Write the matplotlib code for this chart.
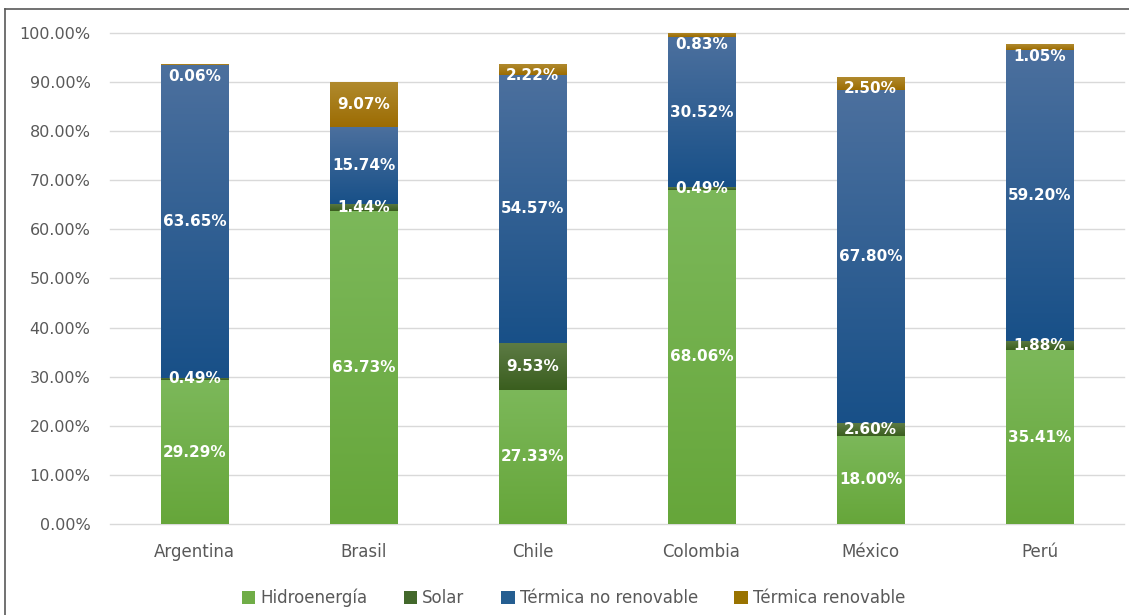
import numpy as np
import matplotlib.pyplot as plt
from matplotlib.colors import LinearSegmentedColormap
from matplotlib.patches import Patch
from matplotlib.lines import Line2D
from matplotlib.ticker import FuncFormatter

countries = ["Argentina", "Brasil", "Chile", "Colombia", "México", "Perú"]
sources = ["Hidroenergía", "Solar", "Térmica no renovable", "Térmica renovable"]

hidro = [29.29, 63.73, 27.33, 68.06, 18.00, 35.41]
solar = [0.49, 1.44, 9.53, 0.49, 2.60, 1.88]
termica_no_renov = [63.65, 15.74, 54.57, 30.52, 67.80, 59.20]
termica_renov = [0.06, 9.07, 2.22, 0.83, 2.50, 1.05]

series = [hidro, solar, termica_no_renov, termica_renov]

# (top, bottom) of each segment's vertical gradient, plus the flat legend colour
gradients = [("#7cb85a", "#66a63a"), ("#5d7b45", "#3a5e1e"),
             ("#4c709e", "#185088"), ("#b08a2e", "#9c6c02")]
legend_colors = ["#70ad47", "#43682b", "#255e91", "#997300"]

fig = plt.figure(figsize=(11.29, 6.15), dpi=100)
ax = fig.add_axes([0.0974, 0.148, 0.8982, 0.7985])

x = np.arange(len(countries))
width = 0.4
bottom = np.zeros(len(countries))
ramp = np.linspace(0, 1, 256).reshape(-1, 1)

for vals, (top_c, bot_c) in zip(series, gradients):
    vals = np.array(vals)
    bars = ax.bar(x, vals, width, bottom=bottom, color="none", edgecolor="none", zorder=2)
    cmap = LinearSegmentedColormap.from_list("seg", [bot_c, top_c])
    for b in bars:
        x0, y0 = b.get_x(), b.get_y()
        ax.imshow(ramp, cmap=cmap, origin="lower", aspect="auto", zorder=2,
                  extent=(x0, x0 + b.get_width(), y0, y0 + b.get_height()))
    bottom = bottom + vals

# data labels, kept inside the top of each bar
totals = bottom
bottom = np.zeros(len(countries))
for vals in series:
    vals = np.array(vals)
    for i, v in enumerate(vals):
        y = min(bottom[i] + v / 2, totals[i] - 2.3)
        ax.text(x[i], y, f"{v:.2f}%", ha="center", va="center", color="white",
                fontsize=11, fontweight="bold", zorder=4)
    bottom = bottom + vals

ax.set_xlim(-0.5, len(countries) - 0.5)
ax.set_ylim(0, 100)
ax.set_yticks(np.arange(0, 101, 10))
ax.yaxis.set_major_formatter(FuncFormatter(lambda v, _: f"{v:.2f}%"))
ax.set_xticks(x)
ax.set_xticklabels(countries)
ax.tick_params(axis="y", length=0, pad=14, labelsize=11.5, labelcolor="#595959")
ax.tick_params(axis="x", length=0, pad=14, labelsize=12, labelcolor="#595959")
ax.grid(axis="y", color="#d9d9d9", linewidth=1, zorder=0)
ax.set_axisbelow(True)
for gl in ax.get_ygridlines():
    gl.set_clip_on(False)
for s in ax.spines.values():
    s.set_visible(False)

handles = [Patch(facecolor=c, edgecolor="none") for c in legend_colors]
fig.legend(handles, sources, loc="center", bbox_to_anchor=(0.508, 0.028), ncol=4,
           frameon=False, fontsize=12, labelcolor="#595959", handlelength=0.8,
           handleheight=0.8, handletextpad=0.3, columnspacing=2.2)

# chart frame
fig.add_artist(Line2D([0.0045, 0.0045], [0, 0.985], color="#595959", lw=1.2))
fig.add_artist(Line2D([0.0045, 1], [0.985, 0.985], color="#595959", lw=1.2))

fig.savefig("out.png", dpi=100)
